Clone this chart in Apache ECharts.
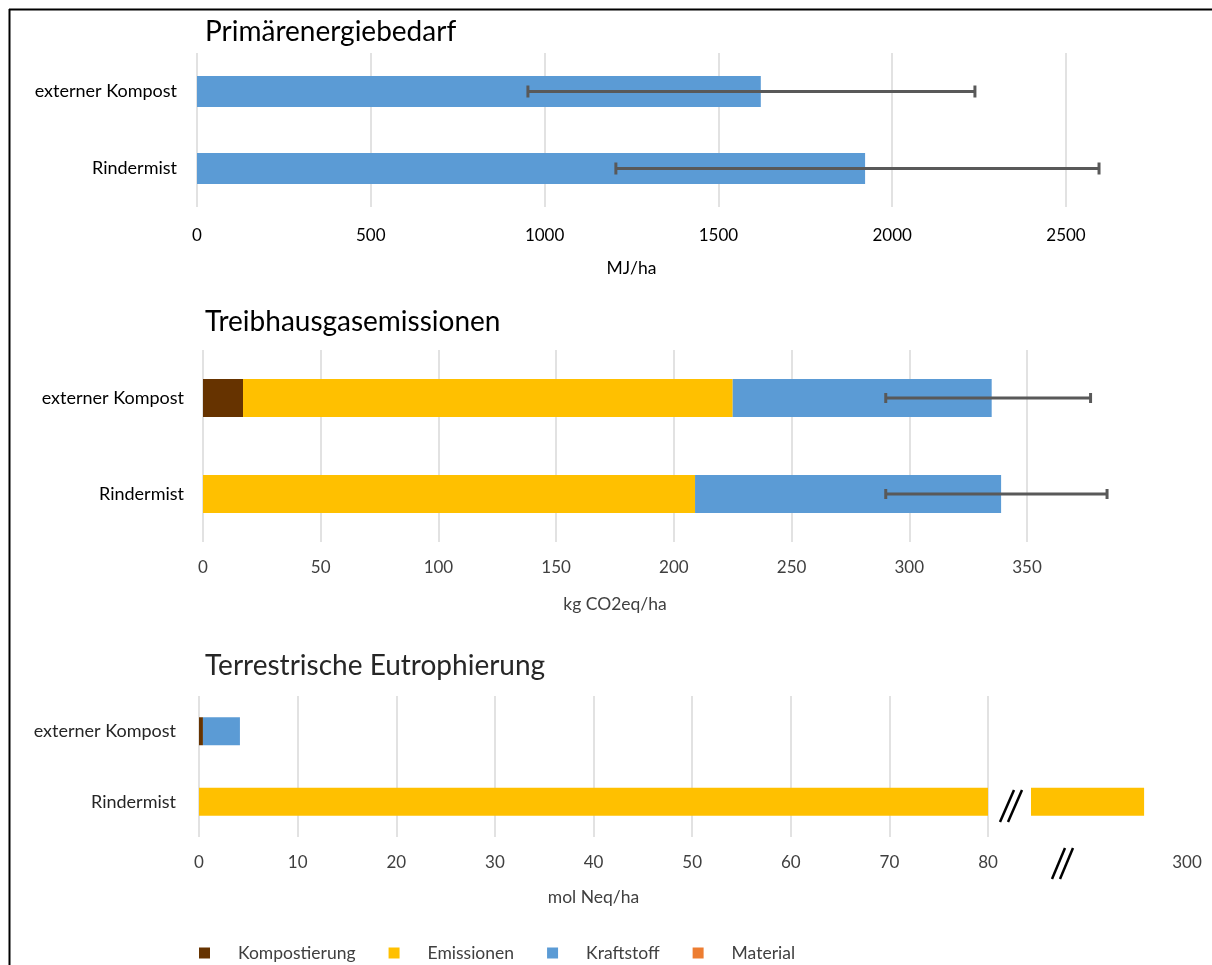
<!DOCTYPE html>
<html>
<head>
<meta charset="utf-8">
<title>Primärenergiebedarf, Treibhausgasemissionen, Terrestrische Eutrophierung</title>
<script src="https://cdn.jsdelivr.net/npm/echarts@6/dist/echarts.min.js"></script>
<style>
  html, body { margin: 0; padding: 0; background: #fff; }
  #chart { width: 1212px; height: 965px; }
</style>
</head>
<body>
<div id="chart"></div>
<script>
// Categories (top to bottom)
const categories = ['externer Kompost', 'Rindermist'];

// Primärenergiebedarf (MJ/ha)
const energyKraftstoff = [1622, 1922];
const energyErrLow = [952, 1205];
const energyErrHigh = [2238, 2595];

// Treibhausgasemissionen (kg CO2eq/ha)
const ghgKompostierung = [17, 0];
const ghgEmissionen = [208, 209];
const ghgKraftstoff = [110, 130];
const ghgErrLow = [290, 290];
const ghgErrHigh = [377, 384];

// Terrestrische Eutrophierung (mol Neq/ha); the axis is broken after 80
const eutKompostierung = [0.4, 0];
const eutEmissionen = [0, 289];
const eutKraftstoff = [3.75, 0];

// Axis ranges
const energyAxis = { min: 0, max: 2500, interval: 500 };
const ghgAxis = { min: 0, max: 350, interval: 50 };
const eutAxis = { min: 0, max: 80, interval: 10 };
const eutBreakAxis = { min: 260, max: 300, interval: 40 };

const legendNames = ['Kompostierung', 'Emissionen', 'Kraftstoff', 'Material'];
const colors = {
  Kompostierung: '#663300',
  Emissionen: '#FFC000',
  Kraftstoff: '#5B9BD5',
  Material: '#ED7D31'
};

const FONT = 'Lato';
const GRID_LINE = '#D9D9D9';

function errorData(lo, hi) {
  return lo.map((v, i) => [v, hi[i], i]);
}

function errorRenderer(capH) {
  return function (params, api) {
    const idx = api.value(2);
    const p0 = api.coord([api.value(0), idx]);
    const p1 = api.coord([api.value(1), idx]);
    const style = { stroke: '#595959', lineWidth: 3 };
    return {
      type: 'group',
      children: [
        { type: 'line', shape: { x1: p0[0], y1: p0[1], x2: p1[0], y2: p1[1] }, style },
        { type: 'line', shape: { x1: p0[0], y1: p0[1] - capH / 2, x2: p0[0], y2: p0[1] + capH / 2 }, style },
        { type: 'line', shape: { x1: p1[0], y1: p1[1] - capH / 2, x2: p1[0], y2: p1[1] + capH / 2 }, style }
      ]
    };
  };
}

const plainNumber = (v) => String(v);

function valueAxis(gridIndex, range, name, nameGap, labelMargin, labelColor) {
  return {
    type: 'value',
    gridIndex,
    min: range.min,
    max: range.max,
    interval: range.interval,
    name,
    nameLocation: 'middle',
    nameGap,
    nameTextStyle: { fontFamily: FONT, fontSize: 17.5, color: labelColor },
    axisLine: { show: false },
    axisTick: { show: false },
    axisLabel: { fontFamily: FONT, fontSize: 17, color: labelColor, margin: labelMargin, formatter: plainNumber },
    splitLine: { show: true, lineStyle: { color: GRID_LINE, width: 1.5 } }
  };
}

function categoryAxis(gridIndex, margin, labelColor) {
  return {
    type: 'category',
    gridIndex,
    data: categories,
    inverse: true,
    axisLine: { show: false },
    axisTick: { show: false },
    axisLabel: { fontFamily: FONT, fontSize: 18, color: labelColor, margin }
  };
}

function bar(name, data, axisIdx, width) {
  return {
    type: 'bar',
    name,
    data,
    stack: 'p' + axisIdx,
    xAxisIndex: axisIdx,
    yAxisIndex: axisIdx,
    barWidth: width,
    itemStyle: { color: colors[name] },
    clip: true,
    emphasis: { disabled: true }
  };
}

const chart = echarts.init(document.getElementById('chart'), null, { renderer: 'canvas' });

const titleStyle = { fontFamily: FONT, fontSize: 28, fontWeight: 'normal', color: '#000', lineHeight: 34 };

const option = {
  animation: false,
  backgroundColor: '#fff',
  title: [
    { text: 'Primärenergiebedarf', left: 205, top: 15, padding: 0, textStyle: titleStyle },
    { text: 'Treibhausgasemissionen', left: 205, top: 305, padding: 0, textStyle: titleStyle },
    { text: 'Terrestrische Eutrophierung', left: 205, top: 649, padding: 0, textStyle: Object.assign({}, titleStyle, { color: '#262626' }) }
  ],
  legend: {
    data: legendNames,
    left: 199,
    top: 944,
    padding: 0,
    icon: 'rect',
    itemWidth: 11,
    itemHeight: 11,
    itemGap: 33,
    selectedMode: false,
    textStyle: { fontFamily: FONT, fontSize: 17.5, color: '#404040', padding: [0, 0, 0, 23] }
  },
  grid: [
    { left: 197, right: 146, top: 53, height: 154 },
    { left: 203, right: 185, top: 350, height: 192 },
    { left: 199, right: 224, top: 696, height: 141 },
    { left: 1031, right: 25, top: 696, height: 141 }
  ],
  xAxis: [
    valueAxis(0, energyAxis, 'MJ/ha', 52, 20, '#000'),
    valueAxis(1, ghgAxis, 'kg CO2eq/ha', 53, 17, '#404040'),
    valueAxis(2, eutAxis, 'mol Neq/ha', 51, 17, '#404040'),
    {
      type: 'value',
      gridIndex: 3,
      min: eutBreakAxis.min,
      max: eutBreakAxis.max,
      interval: eutBreakAxis.interval,
      axisLine: { show: false },
      axisTick: { show: false },
      splitLine: { show: false },
      axisLabel: {
        fontFamily: FONT, fontSize: 17, color: '#404040', margin: 17,
        showMinLabel: false, formatter: plainNumber
      }
    }
  ],
  yAxis: [
    categoryAxis(0, 20, '#000'),
    categoryAxis(1, 19, '#000'),
    categoryAxis(2, 23, '#262626'),
    Object.assign(categoryAxis(3, 0, '#000'), { show: false })
  ],
  series: [
    // Primärenergiebedarf
    bar('Kraftstoff', energyKraftstoff, 0, 31),
    {
      type: 'custom', name: 'Fehler', xAxisIndex: 0, yAxisIndex: 0,
      data: errorData(energyErrLow, energyErrHigh),
      encode: { x: [0, 1], y: 2 },
      renderItem: errorRenderer(12), clip: false, z: 5
    },
    // Treibhausgasemissionen
    bar('Kompostierung', ghgKompostierung, 1, 38),
    bar('Emissionen', ghgEmissionen, 1, 38),
    bar('Kraftstoff', ghgKraftstoff, 1, 38),
    bar('Material', [], 1, 38),
    {
      type: 'custom', name: 'Fehler', xAxisIndex: 1, yAxisIndex: 1,
      data: errorData(ghgErrLow, ghgErrHigh),
      encode: { x: [0, 1], y: 2 },
      renderItem: errorRenderer(10), clip: false, z: 5
    },
    // Terrestrische Eutrophierung
    bar('Kompostierung', eutKompostierung, 2, 28),
    bar('Emissionen', eutEmissionen, 2, 28),
    bar('Kraftstoff', eutKraftstoff, 2, 28),
    // continuation of the same values beyond the axis break
    bar('Emissionen', eutEmissionen, 3, 28)
  ],
  graphic: [
    // frame
    { type: 'line', shape: { x1: 9.5, y1: 9, x2: 9.5, y2: 965 }, style: { stroke: '#000', lineWidth: 2 }, silent: true },
    { type: 'line', shape: { x1: 9, y1: 9.5, x2: 1212, y2: 9.5 }, style: { stroke: '#000', lineWidth: 2 }, silent: true },
    // axis break marks
    { type: 'line', shape: { x1: 1000, y1: 822, x2: 1014, y2: 790 }, style: { stroke: '#000', lineWidth: 2.5 }, silent: true },
    { type: 'line', shape: { x1: 1008, y1: 822, x2: 1022, y2: 790 }, style: { stroke: '#000', lineWidth: 2.5 }, silent: true },
    { type: 'line', shape: { x1: 1052, y1: 879, x2: 1065, y2: 848 }, style: { stroke: '#000', lineWidth: 2.5 }, silent: true },
    { type: 'line', shape: { x1: 1060, y1: 879, x2: 1073, y2: 848 }, style: { stroke: '#000', lineWidth: 2.5 }, silent: true }
  ]
};

chart.setOption(option);
</script>
</body>
</html>
